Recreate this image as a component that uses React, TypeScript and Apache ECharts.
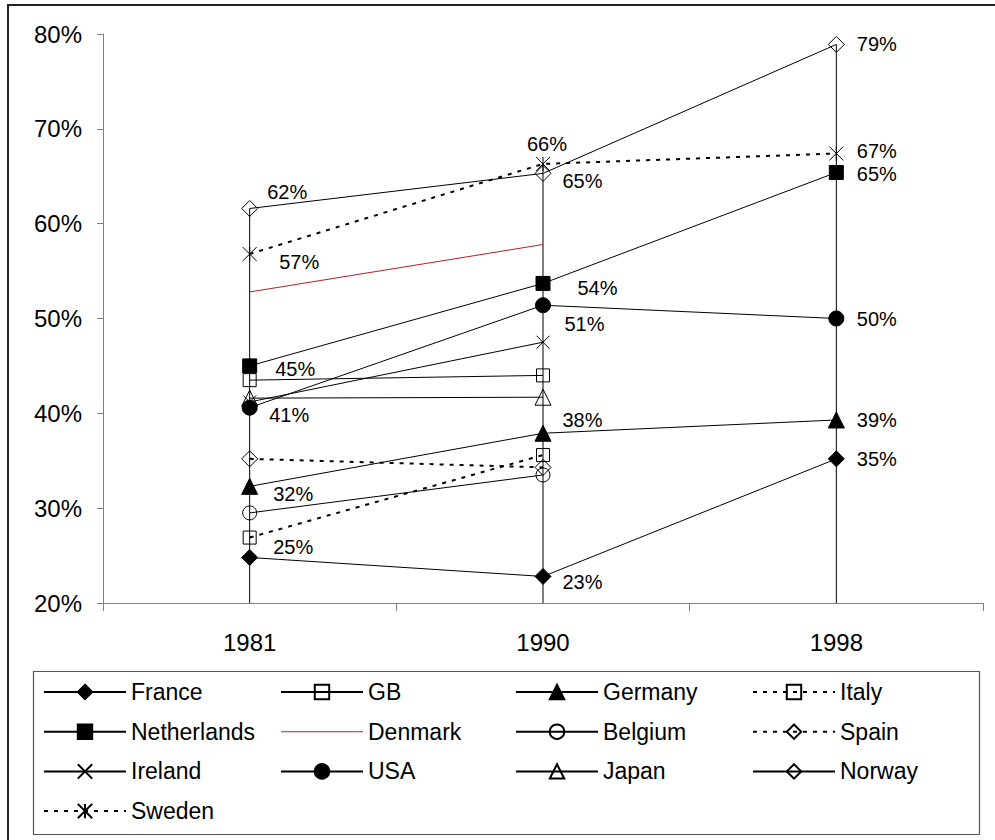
import { useEffect, useRef } from "react";
import * as echarts from "echarts";

// Survey years (category axis)
const years = ["1981", "1990", "1998"];

// Share of respondents, in percent, per country and year (null = not surveyed)
const france = [24.8, 22.8, 35.2];
const gb = [43.5, 44.0, null];
const germany = [32.3, 37.9, 39.3];
const italy = [26.9, 35.6, null];
const netherlands = [45.0, 53.7, 65.4];
const denmark = [52.8, 57.8, null];
const belgium = [29.5, 33.5, null];
const spain = [35.2, 34.3, null];
const ireland = [41.2, 47.5, null];
const usa = [40.6, 51.4, 50.0];
const japan = [41.6, 41.7, null];
const norway = [61.6, 65.3, 78.9];
const sweden = [56.8, 66.3, 67.4];

const FONT = "'Liberation Sans', Arial, Helvetica, sans-serif";
const X_MARK = "path://M0,0L10,10M10,0L0,10";
const STAR_MARK = "path://M0,0L10,10M10,0L0,10M5,0L5,10";

type Placement = [number, number] | "top" | null;

interface Country {
  name: string;
  values: (number | null)[];
  symbol: string;
  size: number;
  filled: boolean;
  dashed: boolean;
  color?: string;
  labels?: Placement[];
}

const countries: Country[] = [
  { name: "France", values: france, symbol: "diamond", size: 16, filled: true, dashed: false,
    labels: [[23, -10], [19, 6], [20, 0]] },
  { name: "GB", values: gb, symbol: "rect", size: 13, filled: false, dashed: false },
  { name: "Germany", values: germany, symbol: "triangle", size: 16, filled: true, dashed: false,
    labels: [[23, 8], [19, -13], [20, 0]] },
  { name: "Italy", values: italy, symbol: "rect", size: 13, filled: false, dashed: true },
  { name: "Netherlands", values: netherlands, symbol: "rect", size: 14, filled: true, dashed: false,
    labels: [[25, 3], [34, 5], [20, 2]] },
  { name: "Denmark", values: denmark, symbol: "none", size: 0, filled: true, dashed: false, color: "#b22222" },
  { name: "Belgium", values: belgium, symbol: "circle", size: 14, filled: false, dashed: false },
  { name: "Spain", values: spain, symbol: "diamond", size: 16, filled: false, dashed: true },
  { name: "Ireland", values: ireland, symbol: X_MARK, size: 13, filled: false, dashed: false },
  { name: "USA", values: usa, symbol: "circle", size: 15, filled: true, dashed: false,
    labels: [[19, 7], [21, 19], [20, 0]] },
  { name: "Japan", values: japan, symbol: "triangle", size: 16, filled: false, dashed: false },
  { name: "Norway", values: norway, symbol: "diamond", size: 16, filled: false, dashed: false,
    labels: [[17, -16], [19, 8], [20, 0]] },
  { name: "Sweden", values: sweden, symbol: STAR_MARK, size: 14, filled: false, dashed: true,
    labels: [[29, 8], "top", [20, -2]] },
];

// Legend columns, read top to bottom
const legendColumns = [
  ["France", "Netherlands", "Ireland", "Sweden"],
  ["GB", "Denmark", "USA"],
  ["Germany", "Belgium", "Japan"],
  ["Italy", "Spain", "Norway"],
];
const legendLefts = [43, 280, 515, 752];

const pct = (v: number) => `${Math.round(v)}%`;

function buildData(c: Country) {
  return c.values.map((v, i) => {
    const p = c.labels ? c.labels[i] : null;
    if (v == null || !p) return v;
    if (p === "top") {
      return {
        value: v,
        label: { show: true, position: "top", distance: 3, offset: [4, 0], formatter: pct(v) },
      };
    }
    return {
      value: v,
      label: {
        show: true,
        position: "right",
        distance: 0,
        offset: [p[0] - c.size / 2, p[1]],
        formatter: pct(v),
      },
    };
  });
}

export default function App() {
  const ref = useRef<HTMLDivElement>(null);

  useEffect(() => {
    if (!ref.current) return;
    const chart = echarts.init(ref.current, undefined, { renderer: "svg" });

    const maxima = years.map((_, i) =>
      Math.max(...countries.map((c) => (c.values[i] == null ? -Infinity : (c.values[i] as number))))
    );

    const lineSeries = countries.map((c) => {
      const stroke = c.color ?? "#000";
      return {
        name: c.name,
        type: "line",
        data: buildData(c),
        symbol: c.symbol,
        symbolSize: c.size,
        showSymbol: c.symbol !== "none",
        connectNulls: false,
        z: 3,
        lineStyle: {
          color: stroke,
          width: c.dashed ? 2 : 1,
          type: c.dashed ? [4, 6] : "solid",
        },
        itemStyle: {
          color: c.symbol === "none" ? stroke : c.filled ? "#000" : "rgba(0,0,0,0)",
          borderColor: stroke,
          borderWidth: c.symbol === "none" ? 0 : 1,
        },
        label: {
          show: false,
          color: "#000",
          fontSize: 20,
          lineHeight: 18,
          fontFamily: FONT,
        },
        emphasis: { disabled: true },
      };
    });

    const legends = legendColumns.map((names, k) => ({
      orient: "vertical",
      left: legendLefts[k],
      top: 680,
      itemWidth: 82,
      itemHeight: 18,
      itemGap: 15.7,
      selectedMode: false,
      padding: 0,
      textStyle: { fontSize: 23, fontFamily: FONT, color: "#000", lineHeight: 24 },
      data: names.map((n) =>
        n === "Denmark" ? { name: n, icon: "path://M0,0H82V1H0Z" } : { name: n }
      ),
    }));

    chart.setOption({
      animation: false,
      backgroundColor: "#fff",
      textStyle: { fontFamily: FONT },
      grid: { left: 103, right: 12, top: 34, bottom: 237, containLabel: false },
      legend: legends,
      xAxis: {
        type: "category",
        data: years,
        boundaryGap: true,
        axisLine: { lineStyle: { color: "#808080", width: 1 } },
        axisTick: { show: true, length: 8, lineStyle: { color: "#808080" } },
        axisLabel: { fontSize: 24, color: "#000", fontFamily: FONT, margin: 27 },
        splitLine: { show: false },
      },
      yAxis: {
        type: "value",
        min: 20,
        max: 80,
        interval: 10,
        axisLine: { show: true, lineStyle: { color: "#808080", width: 1 } },
        axisTick: { show: true, length: 6, lineStyle: { color: "#808080" } },
        axisLabel: { fontSize: 24, color: "#000", fontFamily: FONT, margin: 21, formatter: "{value}%" },
        splitLine: { show: false },
      },
      graphic: [
        {
          type: "rect",
          silent: true,
          z: -10,
          shape: { x: 8, y: 5, width: 1200, height: 1200 },
          style: { fill: "none", stroke: "#222", lineWidth: 2 },
        },
        {
          type: "rect",
          silent: true,
          z: -10,
          shape: { x: 33.5, y: 671.5, width: 946, height: 163 },
          style: { fill: "none", stroke: "#555", lineWidth: 1.2 },
        },
      ],
      series: [
        {
          type: "custom",
          name: "drop",
          silent: true,
          z: 1,
          data: maxima.map((m, i) => [i, m]),
          encode: { x: 0, y: 1 },
          renderItem: (_params: any, api: any) => {
            const top = api.coord([api.value(0), api.value(1)]);
            const bottom = api.coord([api.value(0), 20]);
            return {
              type: "line",
              shape: { x1: top[0], y1: top[1], x2: bottom[0], y2: bottom[1] },
              style: { stroke: "#000", lineWidth: 1 },
            };
          },
        },
        ...lineSeries,
      ],
    } as any);

    return () => chart.dispose();
  }, []);

  return (
    <div
      ref={ref}
      style={{ position: "absolute", left: 0, top: 0, width: 995, height: 840 }}
    />
  );
}
